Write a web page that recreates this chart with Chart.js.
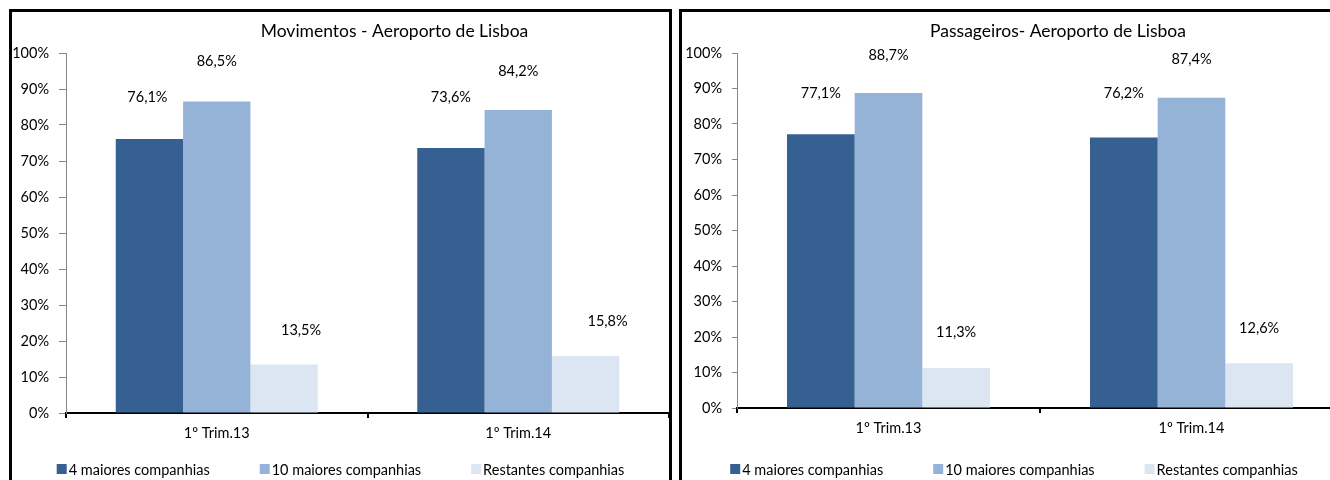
<!DOCTYPE html>
<html><head><meta charset="utf-8">
<script src="https://cdn.jsdelivr.net/npm/chart.js@4.4.1/dist/chart.umd.min.js"></script>
<style>
html,body{margin:0;padding:0;background:#fff;width:1330px;height:480px;overflow:hidden;position:relative;}
.box{position:absolute;top:9px;border:3px solid #000;background:#fff;}
#b1{left:9px;width:657px;height:478px;}
#b2{left:679px;width:668px;height:478px;}
canvas{display:block;}
</style></head><body>
<div class="box" id="b1"><canvas id="c1" width="657" height="478"></canvas></div>
<div class="box" id="b2"><canvas id="c2" width="668" height="478"></canvas></div>
<script>
// ---- data ----
const categories = ['1º Trim.13', '1º Trim.14'];
const seriesNames = ['4 maiores companhias', '10 maiores companhias', 'Restantes companhias'];
const movTop4 = [76.1, 73.6];
const movTop10 = [86.5, 84.2];
const movOthers = [13.5, 15.8];
const paxTop4 = [77.1, 76.2];
const paxTop10 = [88.7, 87.4];
const paxOthers = [11.3, 12.6];
const yTickValues = [0, 10, 20, 30, 40, 50, 60, 70, 80, 90, 100];
const titles = ['Movimentos - Aeroporto de Lisboa', 'Passageiros- Aeroporto de Lisboa'];

// ---- style ----
const FAMILY = 'Lato, "Open Sans", sans-serif';
const FS = 14.5;
const colors = ['#376092', '#95B3D7', '#DCE6F2'];

const fmt = v => v.toFixed(1).replace('.', ',') + '%';

const titlePlugin = {
  id: 'xlTitle',
  afterDraw(chart, args, o) {
    const ctx = chart.ctx;
    ctx.save();
    ctx.font = '17.5px ' + FAMILY;
    ctx.fillStyle = '#000';
    ctx.textAlign = 'center';
    ctx.textBaseline = 'middle';
    const ca = chart.chartArea;
    ctx.fillText(o.text, (ca.left + ca.right) / 2 + o.dx, o.y);
    ctx.restore();
  }
};

const labelPlugin = {
  id: 'xlLabels',
  afterDatasetsDraw(chart, args, o) {
    const ctx = chart.ctx;
    ctx.save();
    ctx.font = FS + 'px ' + FAMILY;
    ctx.fillStyle = '#000';
    ctx.textAlign = 'center';
    ctx.textBaseline = 'middle';
    chart.data.datasets.forEach((ds, di) => {
      const meta = chart.getDatasetMeta(di);
      meta.data.forEach((bar, i) => {
        const off = (o.offsets && o.offsets[di] && o.offsets[di][i]) || [0, -38];
        ctx.fillText(fmt(ds.data[i]), bar.x + off[0], bar.y + off[1]);
      });
    });
    ctx.restore();
  }
};

const legendPlugin = {
  id: 'xlLegend',
  afterDraw(chart, args, o) {
    const ctx = chart.ctx;
    ctx.save();
    ctx.font = FS + 'px ' + FAMILY;
    ctx.textBaseline = 'middle';
    ctx.textAlign = 'left';
    const box = 10, gap = 2, spacing = 50;
    const items = chart.data.datasets.map(d => ({ t: d.label, c: d.backgroundColor, w: ctx.measureText(d.label).width }));
    const total = items.reduce((s, it) => s + box + gap + it.w, 0) + spacing * (items.length - 1);
    let x = chart.width / 2 + o.dx - total / 2;
    items.forEach(it => {
      ctx.fillStyle = it.c;
      ctx.fillRect(x, o.y - box / 2, box, box);
      ctx.fillStyle = '#000';
      ctx.fillText(it.t, x + box + gap, o.y + 1);
      x += box + gap + it.w + spacing;
    });
    ctx.restore();
  }
};

function makeChart(id, vals, cfg) {
  return new Chart(document.getElementById(id), {
    type: 'bar',
    data: {
      labels: categories,
      datasets: vals.map((v, k) => ({
        label: seriesNames[k], data: v, backgroundColor: colors[k],
        borderWidth: 0, categoryPercentage: 0.67, barPercentage: 1.0
      }))
    },
    options: {
      responsive: false, animation: false,
      layout: { padding: { top: 41, left: 0, right: cfg.padRight, bottom: cfg.padBottom } },
      plugins: {
        legend: { display: false }, tooltip: { enabled: false }, title: { display: false },
        xlTitle: { text: cfg.title, dx: cfg.titleDx, y: 19 },
        xlLabels: { offsets: cfg.offsets },
        xlLegend: { y: 457, dx: cfg.legendDx }
      },
      scales: {
        x: {
          z: 1,
          grid: { display: true, drawOnChartArea: false, drawTicks: true, tickLength: 5, color: '#000', lineWidth: 2, offset: true },
          border: { display: true, color: '#000', width: 2 },
          ticks: { color: '#000', font: { family: FAMILY, size: FS }, padding: 7, maxRotation: 0 },
          afterFit: s => { s.height = 30; }
        },
        y: {
          min: 0, max: 100,
          afterBuildTicks: s => { s.ticks = yTickValues.map(v => ({ value: v })); },
          grid: { display: true, drawOnChartArea: false, drawTicks: true, tickLength: cfg.yTick, color: '#868686', lineWidth: 1 },
          border: { display: true, color: '#868686', width: 1 },
          ticks: { color: '#000', font: { family: FAMILY, size: FS }, padding: cfg.yPad, callback: v => v + '%' },
          afterFit: s => { s.width = cfg.yWidth; }
        }
      }
    },
    plugins: [titlePlugin, labelPlugin, legendPlugin]
  });
}

makeChart('c1', [movTop4, movTop10, movOthers], {
  title: titles[0], titleDx: 27, padRight: 0, padBottom: 47, yWidth: 54, legendDx: 0,
  yTick: 7, yPad: 10,
  offsets: [[[-2, -42], [0, -51]], [[0, -40], [0, -39]], [[17, -34], [22, -35]]]
});
makeChart('c2', [paxTop4, paxTop10, paxOthers], {
  title: titles[1], titleDx: 18, padRight: 7, padBottom: 52, yWidth: 55, legendDx: -2,
  yTick: 5, yPad: 10,
  offsets: [[[0, -41], [0, -44]], [[0, -38], [0, -38]], [[0, -36], [0, -35]]]
});
</script>
</body></html>
